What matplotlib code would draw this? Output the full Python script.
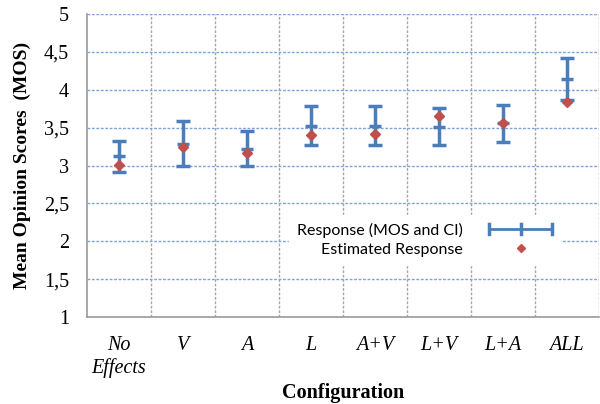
import matplotlib.pyplot as plt
from matplotlib.legend_handler import HandlerBase
from matplotlib.lines import Line2D
import numpy as np

configs = ["No\nEffects", "V", "A", "L", "A+V", "L+V", "L+A", "ALL"]
mos = [3.12, 3.28, 3.22, 3.52, 3.52, 3.51, 3.56, 4.14]
ci_low = [2.91, 2.99, 3.00, 3.27, 3.27, 3.27, 3.31, 3.86]
ci_high = [3.33, 3.59, 3.45, 3.79, 3.79, 3.76, 3.80, 4.42]
estimated = [3.01, 3.25, 3.17, 3.40, 3.42, 3.65, 3.56, 3.84]

blue = "#4a7ebb"
red = "#c0504d"


class HorizErrHandler(HandlerBase):
    # horizontal bar with caps at both ends and a tick in the middle
    def create_artists(self, legend, orig_handle, xdescent, ydescent,
                       width, height, fontsize, trans):
        y = height / 2 - ydescent
        x0, x1 = -xdescent, -xdescent + width
        xm = (x0 + x1) / 2
        h = height * 0.45
        arts = [Line2D([x0, x1], [y, y], color=blue, lw=2)]
        for xx in (x0, xm, x1):
            arts.append(Line2D([xx, xx], [y - h, y + h], color=blue, lw=2.5))
        for a in arts:
            a.set_transform(trans)
        return arts


fig = plt.figure(figsize=(6, 4.04), dpi=100)
ax = fig.add_axes([0.145, 0.2153, 0.853, 0.75])

x = np.arange(len(configs)) + 0.5
m = np.array(mos)
err = [m - np.array(ci_low), np.array(ci_high) - m]
ax.errorbar(x, m, yerr=err, fmt="none", ecolor=blue, elinewidth=2.5,
            capsize=5, capthick=2.5, zorder=3)
ax.plot(x, m, ls="none", marker="_", ms=9, mew=2.5, color=blue, zorder=3)
ax.plot(x, estimated, ls="none", marker="D", ms=5.5, color=red, zorder=4)

ax.set_xlim(0, 8)
ax.set_ylim(1, 5)
ax.set_yticks(np.arange(1, 5.01, 0.5))
ax.set_yticklabels([("%g" % v).replace(".", ",") for v in np.arange(1, 5.01, 0.5)],
                   family="Liberation Serif", fontsize=14.5)
ax.set_xticks(x)
ax.set_xticklabels(configs, family="Liberation Serif", style="italic",
                   fontsize=14.5, va="top", linespacing=1.15)
ax.set_xticks(np.arange(1, 9), minor=True)
ax.tick_params(axis="both", which="both", length=0)
ax.tick_params(axis="x", pad=14)
ax.tick_params(axis="y", pad=13)

for yv in np.arange(1.5, 5.01, 0.5):
    ax.axhline(yv, color="#7fa3d6", ls=(0, (2, 1.2)), lw=1, zorder=1)
ax.grid(True, axis="x", which="minor", color="#a6a6a6", ls=(0, (2, 1.2)), lw=1)
ax.set_axisbelow(True)

for s in ["top", "right"]:
    ax.spines[s].set_visible(False)
for s in ["left", "bottom"]:
    ax.spines[s].set_color("#999999")
    ax.spines[s].set_linewidth(1.2)

ax.set_ylabel("Mean Opinion Scores  (MOS)", family="Liberation Serif",
              fontweight="bold", fontsize=14, labelpad=9)
ax.set_xlabel("Configuration", family="Liberation Serif",
              fontweight="bold", fontsize=14.5, labelpad=4)

resp_proxy = Line2D([], [], color=blue)
est_proxy = Line2D([], [], ls="none", marker="D", ms=4.5, color=red)
leg = ax.legend([resp_proxy, est_proxy],
                ["Response (MOS and CI)", "Estimated Response"],
                handler_map={resp_proxy: HorizErrHandler()},
                loc="center", bbox_to_anchor=(0.66, 0.255),
                markerfirst=False, frameon=True, framealpha=1,
                edgecolor="white", fancybox=False,
                prop={"family": "Lato", "size": 11.5},
                handlelength=4.0, handletextpad=1.6, labelspacing=0.3,
                borderpad=0.5)

fig.savefig("out.png", dpi=100)
